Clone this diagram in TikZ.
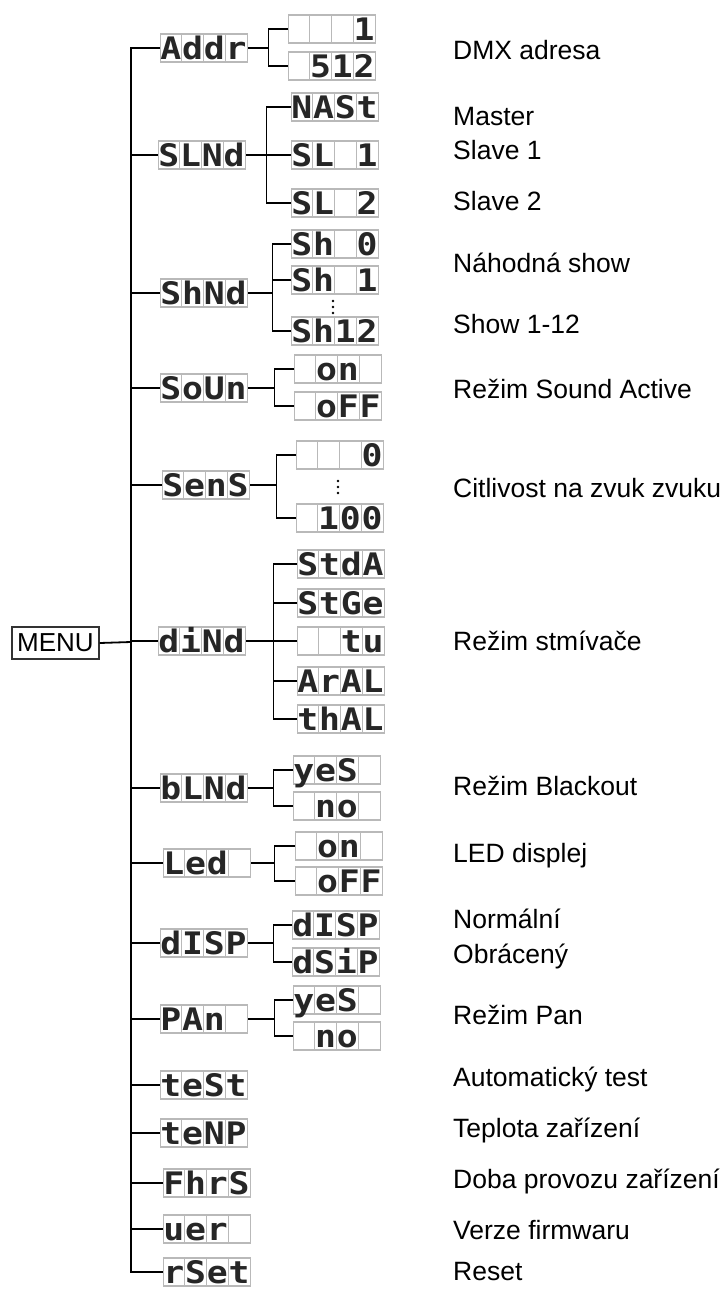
\documentclass[tikz,border=0pt]{standalone}
\usepackage{fontspec}
\setmainfont{Liberation Sans}
\newfontfamily\lcdfont[FakeStretch=1.12]{DejaVu Sans Mono Bold}
\usetikzlibrary{calc,positioning}

\tikzset{
  lcdbox/.style={draw=gray!55, line width=1.4pt, minimum width=87pt, minimum height=28pt, inner sep=0pt, anchor=west},
  lcdsep/.style={draw=gray!55, line width=1.4pt},
  lcdchar/.style={font=\lcdfont\fontsize{31}{31}\selectfont, text=black!85, inner sep=0pt, anchor=base},
  lbl/.style={font=\fontsize{26.5}{30}\selectfont, anchor=base west, inner sep=0pt},
  trunk/.style={line width=2.6pt},
  wire/.style={line width=1.8pt},
}

% one display: name, left point, four cells
\newcommand{\lcd}[6]{%
  \node[lcdbox] (#1) at (#2) {};
  \draw[lcdsep] ($(#1.south west)+(21.75pt,0)$) -- ($(#1.north west)+(21.75pt,0)$);
  \draw[lcdsep] ($(#1.south west)+(43.5pt,0)$) -- ($(#1.north west)+(43.5pt,0)$);
  \draw[lcdsep] ($(#1.south west)+(65.25pt,0)$) -- ($(#1.north west)+(65.25pt,0)$);
  \node[lcdchar] (#1a) at ($(#1.south west)+(10.9pt,3pt)$) {#3};
  \node[lcdchar] (#1b) at ($(#1.south west)+(32.6pt,3pt)$) {#4};
  \node[lcdchar] (#1c) at ($(#1.south west)+(54.4pt,3pt)$) {#5};
  \node[lcdchar] (#1d) at ($(#1.south west)+(76.1pt,3pt)$) {#6};
}

\begin{document}
\begin{tikzpicture}[x=1pt,y=-1pt]
        \useasboundingbox (0,0) rectangle (725,1289);

        \node[draw=black!80, line width=1.4pt, minimum width=87pt, minimum height=32pt, inner sep=0pt,
              font=\fontsize{26}{26}\selectfont] (menu) at (55.5,643) {MENU};

        % first level
        \lcd{addr}{160,48}{A}{d}{d}{r}
        \lcd{slnd}{158,155}{S}{L}{N}{d}
        \lcd{shnd}{160,293}{S}{h}{N}{d}
        \lcd{soun}{160,388}{S}{o}{U}{n}
        \lcd{sens}{162,485}{S}{e}{n}{S}
        \lcd{dind}{158,641}{d}{i}{N}{d}
        \lcd{blnd}{160,788}{b}{L}{N}{d}
        \lcd{led}{163,863}{L}{e}{d}{}
        \lcd{disp}{160,943}{d}{I}{S}{P}
        \lcd{pan}{160,1019}{P}{A}{n}{}
        \lcd{test}{160,1085}{t}{e}{S}{t}
        \lcd{tenp}{160,1133}{t}{e}{N}{P}
        \lcd{fhrs}{163,1183}{F}{h}{r}{S}
        \lcd{ver}{163,1229}{u}{e}{r}{}
        \lcd{rset}{163,1272}{r}{S}{e}{t}

        % second level
        \lcd{addrone}{288,29}{}{}{}{1}
        \lcd{addrmax}{288,66}{}{5}{1}{2}
        \lcd{nast}{291,107}{N}{A}{S}{t}
        \lcd{slone}{291,155}{S}{L}{}{1}
        \lcd{sltwo}{291,203}{S}{L}{}{2}
        \lcd{shzero}{291,244}{S}{h}{}{0}
        \lcd{shone}{291,280}{S}{h}{}{1}
        \lcd{shmax}{291,331}{S}{h}{1}{2}
        \lcd{sounon}{294,369}{}{o}{n}{}
        \lcd{sounoff}{294,406}{}{o}{F}{F}
        \lcd{senszero}{296,455}{}{}{}{0}
        \lcd{sensmax}{296,518}{}{1}{0}{0}
        \lcd{stda}{297,564}{S}{t}{d}{A}
        \lcd{stge}{297,603}{S}{t}{G}{e}
        \lcd{tu}{297,641}{}{}{t}{u}
        \lcd{aral}{297,681}{A}{r}{A}{L}
        \lcd{thal}{297,719}{t}{h}{A}{L}
        \lcd{blndyes}{293,770}{y}{e}{S}{}
        \lcd{blndno}{293,806}{}{n}{o}{}
        \lcd{ledon}{295,846}{}{o}{n}{}
        \lcd{ledoff}{295,881}{}{o}{F}{F}
        \lcd{dispn}{292,925}{d}{I}{S}{P}
        \lcd{dsip}{292,962}{d}{S}{i}{P}
        \lcd{panyes}{293,1000}{y}{e}{S}{}
        \lcd{panno}{293,1036}{}{n}{o}{}

        % trunk
        \coordinate (tr) at (131,642);
        \draw[trunk] (addr.west) -| (tr) |- (rset.west);
        \draw[wire] (menu.east) -- (tr);
        \foreach \n in {slnd,shnd,soun,sens,dind,blnd,led,disp,pan,test,tenp,fhrs,ver}
            \draw[wire] (tr |- \n.west) -- (\n.west);

        % branches
        \coordinate (baddr) at ($(addr.east)+(20pt,0)$);
        \draw[wire] (addr.east) -- (baddr);
        \draw[wire] (addrone.west) -| (baddr) |- (addrmax.west);

        \coordinate (bslnd) at ($(slnd.east)+(20pt,0)$);
        \draw[wire] (slnd.east) -- (slone.west);
        \draw[wire] (nast.west) -| (bslnd) |- (sltwo.west);

        \coordinate (bshnd) at ($(shnd.east)+(24pt,0)$);
        \draw[wire] (shnd.east) -- (bshnd);
        \draw[wire] (shzero.west) -| (bshnd) |- (shmax.west);
        \draw[wire] (bshnd |- shone.west) -- (shone.west);

        \coordinate (bsoun) at ($(soun.east)+(26pt,0)$);
        \draw[wire] (soun.east) -- (bsoun);
        \draw[wire] (sounon.west) -| (bsoun) |- (sounoff.west);

        \coordinate (bsens) at ($(sens.east)+(26pt,0)$);
        \draw[wire] (sens.east) -- (bsens);
        \draw[wire] (senszero.west) -| (bsens) |- (sensmax.west);

        \coordinate (bdind) at ($(dind.east)+(27pt,0)$);
        \draw[wire] (dind.east) -- (tu.west);
        \draw[wire] (stda.west) -| (bdind) |- (thal.west);
        \draw[wire] (bdind |- stge.west) -- (stge.west);
        \draw[wire] (bdind |- aral.west) -- (aral.west);

        \coordinate (bblnd) at ($(blnd.east)+(25pt,0)$);
        \draw[wire] (blnd.east) -- (bblnd);
        \draw[wire] (blndyes.west) -| (bblnd) |- (blndno.west);

        \coordinate (bled) at ($(led.east)+(23pt,0)$);
        \draw[wire] (led.east) -- (bled);
        \draw[wire] (ledon.west) -| (bled) |- (ledoff.west);

        \coordinate (bdisp) at ($(disp.east)+(25pt,0)$);
        \draw[wire] (disp.east) -- (bdisp);
        \draw[wire] (dispn.west) -| (bdisp) |- (dsip.west);

        \coordinate (bpan) at ($(pan.east)+(26pt,0)$);
        \draw[wire] (pan.east) -- (bpan);
        \draw[wire] (panyes.west) -| (bpan) |- (panno.west);

        % dots
        \foreach \d in {0,6,12} {
            \fill (333,301+\d) circle (1.3pt);
            \fill (338,481+\d) circle (1.3pt);
        }

        % texts
        \node[lbl] (taddr) at (453,59.5) {DMX adresa};
        \node[lbl] (tmaster) at (453,125.5) {Master};
        \node[lbl] (tslone) at (453,159.5) {Slave 1};
        \node[lbl] (tsltwo) at (453,210.5) {Slave 2};
        \node[lbl] (trandom) at (453,272.5) {Náhodná show};
        \node[lbl] (tshow) at (453,333.5) {Show 1-12};
        \node[lbl] (tsound) at (453,398.5) {Režim Sound Active};
        \node[lbl] (tsens) at (453,497.5) {Citlivost na zvuk zvuku};
        \node[lbl] (tdim) at (453,650.5) {Režim stmívače};
        \node[lbl] (tblack) at (453,795.5) {Režim Blackout};
        \node[lbl] (tled) at (453,862.5) {LED displej};
        \node[lbl] (tnorm) at (453,928.5) {Normální};
        \node[lbl] (tinv) at (453,963.5) {Obrácený};
        \node[lbl] (tpan) at (453,1024.5) {Režim Pan};
        \node[lbl] (ttest) at (453,1086.5) {Automatický test};
        \node[lbl] (ttemp) at (453,1137.5) {Teplota zařízení};
        \node[lbl] (thours) at (453,1188.5) {Doba provozu zařízení};
        \node[lbl] (tver) at (453,1239.5) {Verze firmwaru};
        \node[lbl] (treset) at (453,1280.5) {Reset};

\end{tikzpicture}
\end{document}
